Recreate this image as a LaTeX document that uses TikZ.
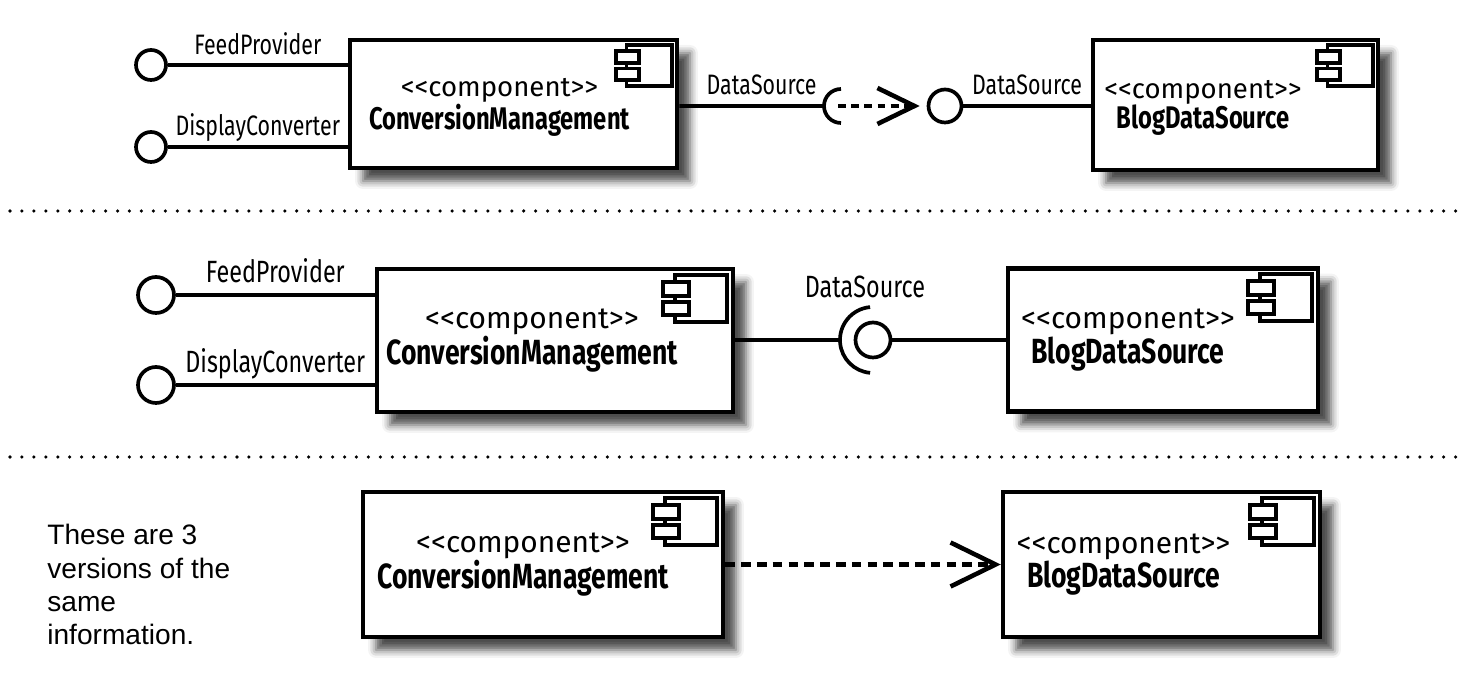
\documentclass[tikz,border=0pt]{standalone}
\usepackage{fontspec}
\usepackage{tikz}
\usetikzlibrary{arrows.meta}
\usetikzlibrary{shadows.blur}
\setmainfont{Fira Sans}
\newfontfamily\umlfont[FakeStretch=0.76]{Fira Sans}
\newfontfamily\stereofont{Fira Sans}
\newfontfamily\notefont{Liberation Sans}
\tikzstyle{CompBox}=[draw,line width=2.6pt,fill=white,inner sep=0pt,
blur shadow={shadow xshift=0.26cm,shadow yshift=-0.26cm,shadow blur radius=0.16cm,shadow opacity=70}]
\tikzstyle{CompTextA}=[align=center,inner sep=0pt,font=\fontsize{15.7}{17}\selectfont]
\tikzstyle{CompTextB}=[align=center,inner sep=0pt,font=\fontsize{17}{18.1}\selectfont]
\tikzstyle{Lolli}=[circle,draw,line width=2.1pt,fill=white,inner sep=0pt]
\tikzstyle{Wire}=[line width=2.1pt]
\tikzstyle{DepLine}=[line width=2.6pt,dash pattern=on 4.5pt off 3pt]
\tikzstyle{LblA}=[inner sep=0pt,anchor=base,font=\umlfont\fontsize{16}{18}\selectfont]
\tikzstyle{LblB}=[inner sep=0pt,anchor=base,font=\umlfont\fontsize{17.5}{20}\selectfont]
\tikzstyle{Separator}=[line width=2pt,line cap=round,dash pattern=on 0pt off 6.8pt]
\tikzset{CompIcon/.pic={
  \draw[line width=2.1pt] (-60,-8) rectangle (-8,-55);
  \draw[line width=2.1pt,fill=white] (-72,-15) rectangle (-46,-29);
  \draw[line width=2.1pt,fill=white] (-72,-35) rectangle (-46,-48);
}}
\newcommand{\NameA}{\umlfont\bfseries\fontsize{17.8}{17}\selectfont}
\newcommand{\NameB}{\umlfont\bfseries\fontsize{19.9}{18.1}\selectfont}

\begin{document}
\begin{tikzpicture}[x=0.02cm,y=0.02cm]
\useasboundingbox (0,0) rectangle (1463,686);
% version 1: ball and socket with dependency
\node[CompBox,minimum width=6.54cm,minimum height=2.56cm](cmA)at(513.5,582){};
\node[CompBox,minimum width=5.7cm,minimum height=2.6cm](bdsA)at(1235.5,581){};
\pic[scale=.88] at (cmA.north east) {CompIcon};
\pic[scale=.88] at (bdsA.north east) {CompIcon};
\node[CompTextA](cmAtxt)at([xshift=-0.28cm,yshift=-0.06cm]cmA.center)
  {{\stereofont <<component>>}\\{\NameA ConversionManagement}};
\node[CompTextA](bdsAtxt)at([xshift=-0.65cm,yshift=-0.06cm]bdsA.center)
  {{\stereofont <<component>>}\\{\NameA BlogDataSource}};
\node[Lolli,minimum size=0.6cm](fpA)at(151,621){};
\node[Lolli,minimum size=0.6cm](dcA)at(151,539){};
\coordinate (sockA) at (824,580);
\coordinate (depA) at (838,580);
\node[Lolli,minimum size=0.66cm](ifcA)at(945,580){};
\draw[Wire](fpA)--node[LblA,yshift=0.21cm]{FeedProvider}(cmA.west|-fpA);
\draw[Wire](dcA)--node[LblA,yshift=0.22cm]{DisplayConverter}(cmA.west|-dcA);
\draw[Wire](cmA.east|-sockA)--node[LblA,xshift=0.2cm,yshift=0.22cm]{DataSource}(sockA)
  ++(17,17) arc[start angle=90,end angle=270,radius=17];
\draw[DepLine,-{Straight Barb[length=0.74cm,width=0.72cm]},shorten >=0.14cm](depA)--(ifcA);
\draw[Wire](ifcA)--node[LblA,yshift=0.22cm]{DataSource}(bdsA.west|-ifcA);
\draw[Separator](10,475)--(1460,475);
% version 2: ball and socket
\node[CompBox,minimum width=7.12cm,minimum height=2.86cm](cmB)at(555,345.5){};
\node[CompBox,minimum width=6.2cm,minimum height=2.86cm](bdsB)at(1163,346){};
\pic at (cmB.north east) {CompIcon};
\pic at (bdsB.north east) {CompIcon};
\node[CompTextB](cmBtxt)at([xshift=-0.46cm]cmB.center)
  {{\stereofont <<component>>}\\{\NameB ConversionManagement}};
\node[CompTextB](bdsBtxt)at([xshift=-0.7cm]bdsB.center)
  {{\stereofont <<component>>}\\{\NameB BlogDataSource}};
\node[Lolli,minimum size=0.72cm](fpB)at(156,391){};
\node[Lolli,minimum size=0.72cm](dcB)at(156,301){};
\coordinate (sockB) at (840,346);
\node[Lolli,minimum size=0.7cm](ifcB)at(873,346){};
\draw[Wire](fpB)--node[LblB,yshift=0.24cm]{FeedProvider}(cmB.west|-fpB);
\draw[Wire](dcB)--node[LblB,yshift=0.24cm]{DisplayConverter}(cmB.west|-dcB);
\draw[Wire](cmB.east|-sockB)--(sockB);
\draw[Wire]([shift={(-2.9,32.9)}]ifcB.center) arc[start angle=95,end angle=265,radius=33];
\draw[Wire](ifcB)--(bdsB.west|-ifcB);
\node[LblB](dsB)at([xshift=-0.16cm,yshift=0.86cm]ifcB.center){DataSource};
\draw[Separator](10,229)--(1460,229);
% version 3: plain dependency
\node[CompBox,minimum width=7.2cm,minimum height=2.9cm](cmC)at(543,121.5){};
\node[CompBox,minimum width=6.34cm,minimum height=2.9cm](bdsC)at(1161.5,121.5){};
\pic at (cmC.north east) {CompIcon};
\pic at (bdsC.north east) {CompIcon};
\node[CompTextB](cmCtxt)at([xshift=-0.4cm]cmC.center)
  {{\stereofont <<component>>}\\{\NameB ConversionManagement}};
\node[CompTextB](bdsCtxt)at([xshift=-0.76cm]bdsC.center)
  {{\stereofont <<component>>}\\{\NameB BlogDataSource}};
\draw[DepLine,dash pattern=on 5.5pt off 3.5pt,-{Straight Barb[length=0.9cm,width=0.88cm]}](cmC)--(bdsC);
\node[anchor=north west,inner sep=0pt,align=left,font=\notefont\fontsize{16}{19}\selectfont](note)
  at(47,162){These are 3\\versions of the\\same\\information.};
\end{tikzpicture}
\end{document}
